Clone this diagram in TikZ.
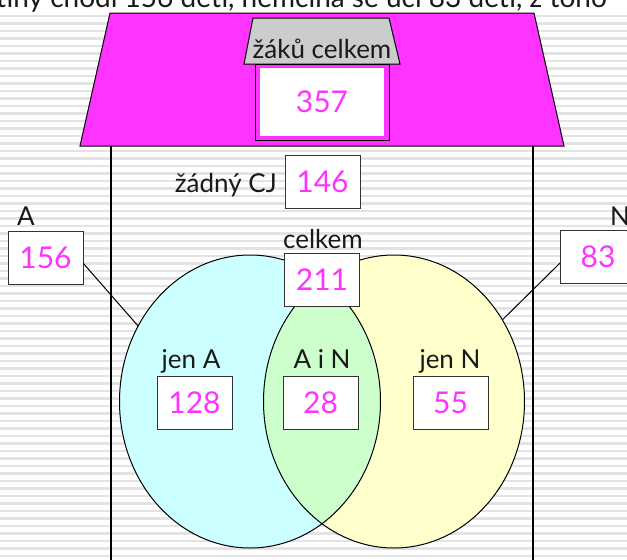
\documentclass[tikz,border=0pt]{standalone}
\usepackage{fontspec}
\setmainfont{Lato}
\usetikzlibrary{shapes.geometric}
\definecolor{mag}{HTML}{FF33FF}
\definecolor{chim}{HTML}{CCCCCC}
\definecolor{cyanA}{HTML}{CCFFFF}
\definecolor{yelN}{HTML}{FFFFCC}
\definecolor{grnAN}{HTML}{CCFFCC}
\begin{document}
\begin{tikzpicture}[x=1pt,y=-1pt,
  stripe/.style={draw=black!11,line width=2.6pt},
  numbox/.style={draw=black!80,fill=white,line width=0.9pt,minimum width=75pt,minimum height=53pt,inner sep=0pt,text=mag,font=\fontsize{30}{30}\selectfont},
  lbl/.style={anchor=base,inner sep=0pt,font=\fontsize{26}{26}\selectfont,text=black!90},
  wall/.style={draw=black,line width=1.2pt},
  venn/.style={ellipse,inner sep=0pt,outer sep=0pt,minimum width=261pt,minimum height=293pt}]
\useasboundingbox (0,0) rectangle (627,560);
\clip (0,0) rectangle (627,560);
% background stripes
\fill[white] (0,0) rectangle (627,560);
\foreach \y in {16,23.5,...,560} \draw[stripe] (0,\y) -- (627,\y);
% top text (cut off at the top edge, as in the reference)
\node[lbl,anchor=base east,font=\fontsize{28}{28}\selectfont] (toptext) at (607,7) {angličtiny chodí 156 dětí, němčina se učí 83 dětí, z toho};
% roof
\draw[fill=mag,line width=1pt] (110,13) -- (534,13) -- (564,146) -- (80,146) -- cycle;
% chimney
\draw[fill=chim,line width=1pt] (253,18) -- (389,18) -- (400,64) -- (244,64) -- cycle;
\node[lbl] (zaku) at (322,58) {žáků celkem};
% total box
\draw[fill=mag,line width=1pt] (255,64) rectangle (389,140);
\node[fill=white,minimum width=124pt,minimum height=68pt,inner sep=0pt,text=mag,font=\fontsize{30}{30}\selectfont] (total) at (322,102) {357};
% walls
\draw[wall] (111,146) -- (111,560);
\draw[wall] (533,146) -- (533,560);
% Venn ellipses
\node[venn,fill=cyanA] (ellA) at (250,401.5) {};
\node[venn,fill=yelN] (ellN) at (394,401.5) {};
\begin{scope}
  \clip (250,401.5) ellipse [x radius=130.5pt,y radius=146.5pt];
  \fill[grnAN] (394,401.5) ellipse [x radius=130.5pt,y radius=146.5pt];
\end{scope}
\draw[line width=1pt] (250,401.5) ellipse [x radius=130.5pt,y radius=146.5pt];
\draw[line width=1pt] (394,401.5) ellipse [x radius=130.5pt,y radius=146.5pt];
% side boxes
\node[numbox] (bA) at (45.5,257.5) {156};
\node[numbox] (bN) at (598,257) {83};
\node[lbl,anchor=base west] (lA) at (17,225) {A};
\node[lbl,anchor=base west] (lN) at (610,225) {N};
\draw[line width=1pt] ([yshift=-6pt]bA.east) -- (ellA.146);
\draw[line width=1pt] ([yshift=-6pt]bN.west) -- (ellN.37);
% none
\node[lbl,anchor=base east] (lnone) at (277,192) {žádný CJ};
\node[numbox] (bnone) at (322.5,182) {146};
% total with language
\node[lbl] (lcel) at (323,248) {celkem};
\node[numbox] (bcel) at (322,280) {211};
% regions
\node[lbl] (ljA) at (191,368) {jen A};
\node[numbox] (bjA) at (194.5,402.5) {128};
\node[lbl] (lAN) at (322,368) {A i N};
\node[numbox] (bAN) at (320.5,402.5) {28};
\node[lbl] (ljN) at (450,368) {jen N};
\node[numbox] (bjN) at (450.5,402.5) {55};
\end{tikzpicture}
\end{document}
